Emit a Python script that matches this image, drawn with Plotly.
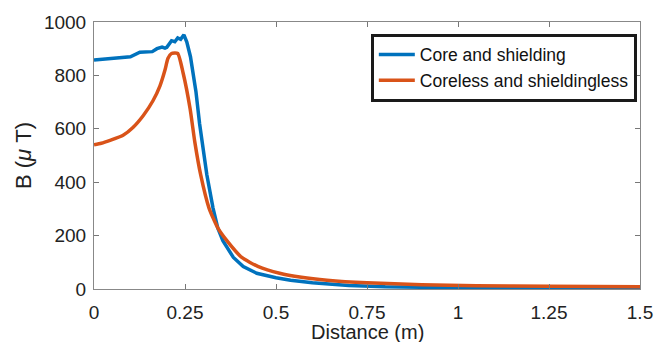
import plotly.graph_objects as go

# Core and shielding (blue)
x_core = [0, 0.02, 0.05, 0.08, 0.10, 0.126, 0.16, 0.173, 0.187, 0.195, 0.20, 0.213, 0.222,
          0.23, 0.238, 0.247, 0.255, 0.265, 0.28, 0.29, 0.297, 0.31, 0.327, 0.34, 0.354,
          0.383, 0.41, 0.447, 0.50, 0.54, 0.60, 0.70, 0.80, 0.90, 1.0, 1.2, 1.5]
b_core = [858, 860, 863, 866, 870, 887, 889, 900, 906, 902, 905, 930, 926,
          940, 935, 952, 925, 870, 740, 620, 555, 428, 303, 229, 181,
          118, 84, 59, 42, 33, 23, 13, 8, 6, 5, 4, 3]

# Coreless and shieldingless (orange)
x_coreless = [0, 0.02, 0.044, 0.08, 0.107, 0.135, 0.162, 0.181, 0.195, 0.203, 0.213, 0.23,
              0.245, 0.264, 0.277, 0.293, 0.316, 0.34, 0.365, 0.406, 0.45, 0.51, 0.57,
              0.64, 0.75, 0.90, 1.05, 1.25, 1.5]
b_coreless = [540, 546, 557, 576, 605, 649, 705, 760, 820, 863, 882, 882,
              808, 675, 550, 428, 303, 229, 181, 118, 85, 59, 44,
              33, 23, 16, 12, 10, 8]

x_ticks = [0, 0.25, 0.5, 0.75, 1, 1.25, 1.5]
x_tick_labels = ["0", "0.25", "0.5", "0.75", "1", "1.25", "1.5"]
y_ticks = [0, 200, 400, 600, 800, 1000]

FONT = "Liberation Sans, Arial, sans-serif"

fig = go.Figure()
fig.add_trace(go.Scatter(x=x_core, y=b_core, mode="lines", name="Core and shielding",
                         line=dict(color="#0072BD", width=3.5)))
fig.add_trace(go.Scatter(x=x_coreless, y=b_coreless, mode="lines",
                         name="Coreless and shieldingless",
                         line=dict(color="#D95319", width=3.5, shape="spline", smoothing=0.5)))

axis_common = dict(showgrid=False, zeroline=False, ticks="inside", ticklen=5,
                   tickcolor="#777", linecolor="#888", linewidth=1, mirror="ticks",
                   showline=True, tickfont=dict(family=FONT, size=19, color="#222"))

fig.update_layout(
    width=669, height=342,
    margin=dict(l=94, r=29, t=18, b=53),
    paper_bgcolor="white", plot_bgcolor="white",
    showlegend=True,
    legend=dict(x=0.507, y=0.956, xanchor="left", yanchor="top",
                bgcolor="white", bordercolor="#1a1a1a", borderwidth=3,
                font=dict(family=FONT, size=17.5, color="#111"),
                tracegroupgap=0, itemwidth=36),
    xaxis=dict(range=[0, 1.5], tickvals=x_ticks, ticktext=x_tick_labels,
               ticklabelstandoff=6, **axis_common),
    yaxis=dict(range=[0, 1000], tickvals=y_ticks, ticklabelstandoff=3,
               title=dict(text="B (<i>μ</i>\u00a0T)",
                          font=dict(family=FONT, size=22, color="#222"),
                          standoff=6),
               **axis_common),
)

fig.add_annotation(text="Distance (m)", xref="paper", yref="paper", x=0.5, y=-0.16,
                   xanchor="center", yanchor="middle", showarrow=False,
                   font=dict(family=FONT, size=20, color="#222"))

fig.write_html("out.html")
